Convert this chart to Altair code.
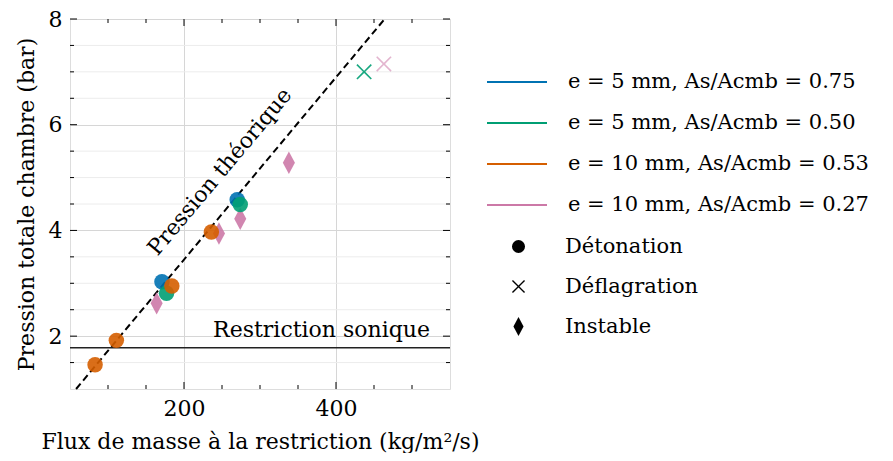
import altair as alt
import pandas as pd

# ---- data ----
flux = [164, 246, 274, 338, 463,      # e=10, 0.27 (pink)
        171, 270,                     # e=5, 0.75 (blue)
        177, 274, 437,                # e=5, 0.50 (green)
        83, 111, 184, 236]            # e=10, 0.53 (orange)
pression = [2.62, 3.94, 4.22, 5.28, 7.15,
            3.03, 4.58,
            2.81, 4.49, 7.00,
            1.46, 1.92, 2.95, 3.97]
series_labels = ["e = 5 mm, As/Acmb = 0.75", "e = 5 mm, As/Acmb = 0.50",
                 "e = 10 mm, As/Acmb = 0.53", "e = 10 mm, As/Acmb = 0.27"]
series_colors = ["#0072B2", "#009E73", "#D55E00", "#CC79A7"]
serie_idx = [3, 3, 3, 3, 3, 0, 0, 1, 1, 1, 2, 2, 2, 2]
regime_labels = ["Détonation", "Déflagration", "Instable"]
regime_idx = [2, 2, 2, 2, 1, 0, 0, 0, 0, 1, 0, 0, 0, 0]
point_alpha = [0.9, 0.9, 0.9, 0.9, 0.55, 0.9, 0.9, 0.9, 0.9, 0.9, 0.9, 0.9, 0.9, 0.9]

theory_x = [58, 464]
theory_y = [1.0, 8.0]
sonic_p = 1.78

x_major = [200, 400]
x_minor = [100, 150, 250, 300, 350, 450, 500]
y_major = [2, 4, 6, 8]
y_minor = [1.5, 2.5, 3, 3.5, 4.5, 5, 5.5, 6.5, 7, 7.5]

X_PATH = ("M-1,-0.85L-0.85,-1L0,-0.15L0.85,-1L1,-0.85L0.15,0L1,0.85L0.85,1L0,0.15"
          "L-0.85,1L-1,0.85L-0.15,0Z")
DIAMOND_PATH = "M0,-1.45L0.78,0L0,1.45L-0.78,0Z"
regime_shapes = ["circle", X_PATH, DIAMOND_PATH]
LEGEND_LINE = "M-3,0L3,0"

FONT = "DejaVu Serif"
FS = 22
LFS = 21
W, H = 380, 370

pts = pd.DataFrame({
    "flux": flux,
    "p": pression,
    "serie": [series_labels[i] for i in serie_idx],
    "regime": [regime_labels[i] for i in regime_idx],
    "a": point_alpha,
})
theory = pd.DataFrame({"flux": theory_x, "p": theory_y})

xs = alt.Scale(domain=[50, 550], nice=False)
ys = alt.Scale(domain=[1, 8], nice=False)
cs = alt.Scale(domain=series_labels, range=series_colors)

xaxis = alt.Axis(values=x_major, ticks=False, domain=False, grid=True,
                 gridColor="#d6d6d6", labelFont=FONT, labelFontSize=FS,
                 labelColor="black", labelPadding=9, titleFont=FONT,
                 titleFontSize=FS, titleFontWeight="normal", titleColor="black",
                 titlePadding=12, title="Flux de masse à la restriction (kg/m²/s)")
yaxis = alt.Axis(values=y_major, format="d", ticks=False, domain=False, grid=True,
                 gridColor="#d6d6d6", labelFont=FONT, labelFontSize=FS,
                 labelColor="black", labelPadding=8, titleFont=FONT,
                 titleFontSize=FS, titleFontWeight="normal", titleColor="black",
                 titlePadding=10, title="Pression totale chambre (bar)")

minor_grid = alt.Chart(pd.DataFrame({"v": y_minor})).mark_rule(
    color="#ececec", strokeWidth=1).encode(y=alt.Y("v:Q", scale=ys, axis=yaxis))

line = alt.Chart(theory).mark_line(color="black", strokeDash=[7, 4],
                                   strokeWidth=2).encode(
    x=alt.X("flux:Q", scale=xs, axis=xaxis), y=alt.Y("p:Q", scale=ys))

sonic = alt.Chart(pd.DataFrame({"p": [sonic_p]})).mark_rule(
    color="#222222", strokeWidth=1.6).encode(y=alt.Y("p:Q", scale=ys))

color_legend = alt.Legend(
    title=None, orient="none", legendX=436, legendY=52,
    symbolType=LEGEND_LINE, symbolSize=400, symbolStrokeWidth=2,
    labelFont=FONT, labelFontSize=LFS, labelColor="black", labelOffset=40,
    labelLimit=500, rowPadding=20)
shape_legend = alt.Legend(
    title=None, orient="none", legendX=438, legendY=217,
    symbolSize=170, symbolFillColor="black", symbolStrokeWidth=0,
    symbolOpacity=1, labelFont=FONT, labelFontSize=LFS, labelColor="black",
    labelOffset=36, labelLimit=500, rowPadding=18)

# one-point-per-series lines: draw nothing, only carry the colour legend
leg_df = pd.DataFrame({"flux": [50] * 4, "p": [1] * 4, "serie": series_labels})
leg_lines = alt.Chart(leg_df).mark_line(strokeWidth=2).encode(
    x=alt.X("flux:Q", scale=xs), y=alt.Y("p:Q", scale=ys),
    color=alt.Color("serie:N", scale=cs, legend=color_legend))

points = alt.Chart(pts).mark_point(filled=True, size=240, strokeWidth=0).encode(
    x=alt.X("flux:Q", scale=xs),
    y=alt.Y("p:Q", scale=ys),
    color=alt.Color("serie:N", scale=cs, legend=None),
    shape=alt.Shape("regime:N", scale=alt.Scale(domain=regime_labels,
                                                range=regime_shapes),
                    legend=shape_legend),
    opacity=alt.Opacity("a:Q", scale=None, legend=None),
)

annot = pd.DataFrame({"flux": [247], "p": [5.11], "t": ["Pression théorique"]})
annot_text = alt.Chart(annot).mark_text(angle=310, font=FONT, fontSize=FS,
                                        color="black").encode(
    x=alt.X("flux:Q", scale=xs), y=alt.Y("p:Q", scale=ys), text="t:N")

sonic_lbl = pd.DataFrame({"flux": [381], "p": [sonic_p],
                          "t": ["Restriction sonique"]})
sonic_text = alt.Chart(sonic_lbl).mark_text(font=FONT, fontSize=FS, color="black",
                                            baseline="bottom", dy=-6).encode(
    x=alt.X("flux:Q", scale=xs), y=alt.Y("p:Q", scale=ys), text="t:N")

# inward ticks on all four sides
def xticks(vals, length):
    d = pd.DataFrame({"v": vals})
    b = alt.Chart(d).mark_rule(color="black", strokeWidth=1)
    return (b.encode(x=alt.X("v:Q", scale=xs), y=alt.value(H), y2=alt.value(H - length))
            + b.encode(x=alt.X("v:Q", scale=xs), y=alt.value(0), y2=alt.value(length)))

def yticks(vals, length):
    d = pd.DataFrame({"v": vals})
    b = alt.Chart(d).mark_rule(color="black", strokeWidth=1)
    return (b.encode(y=alt.Y("v:Q", scale=ys), x=alt.value(0), x2=alt.value(length))
            + b.encode(y=alt.Y("v:Q", scale=ys), x=alt.value(W), x2=alt.value(W - length)))

chart = alt.layer(
    minor_grid, line, sonic, leg_lines, points, annot_text, sonic_text,
    xticks(x_major, 7), xticks(x_minor, 4), yticks(y_major, 7), yticks(y_minor, 4),
).properties(
    width=W, height=H,
    autosize=alt.AutoSizeParams(type="none"),
    padding={"left": 62, "top": 11, "right": 425, "bottom": 64},
).configure_view(stroke="black", strokeWidth=1.3).configure(background="white")

chart.save("out.html", embed_options={"renderer": "svg", "actions": False})
